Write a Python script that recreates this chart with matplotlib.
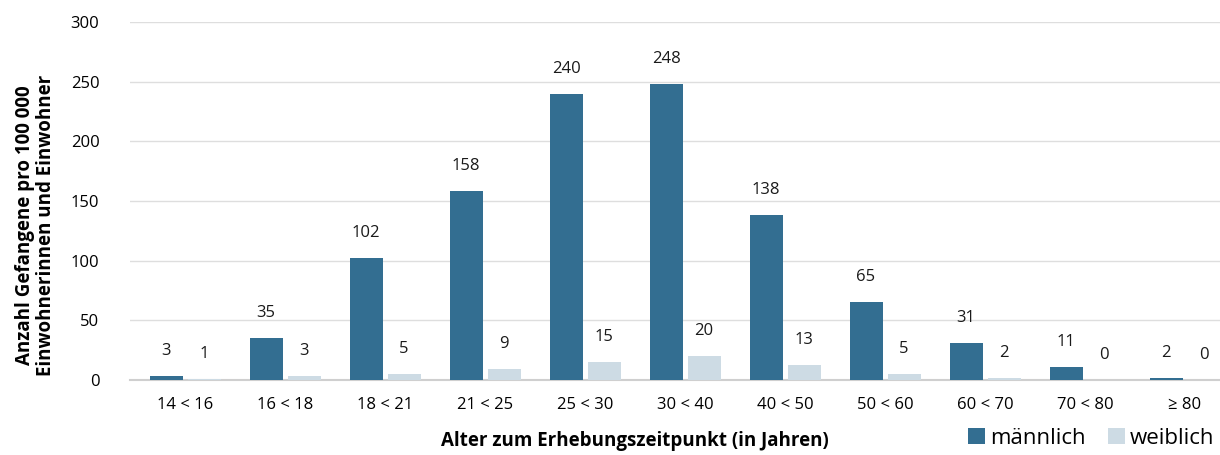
import matplotlib
matplotlib.use("Agg")
import matplotlib.pyplot as plt
import numpy as np

categories = ["14 < 16", "16 < 18", "18 < 21", "21 < 25", "25 < 30", "30 < 40",
              "40 < 50", "50 < 60", "60 < 70", "70 < 80", "≥ 80"]
maennlich = [3, 35, 102, 158, 240, 248, 138, 65, 31, 11, 2]
weiblich = [1, 3, 5, 9, 15, 20, 13, 5, 2, 0, 0]

plt.rcParams['font.family'] = ['Open Sans', 'DejaVu Sans']

fig = plt.figure(figsize=(12.2, 4.55), dpi=100)
ax = fig.add_axes([0.1066, 0.1648, 0.8934, 0.7868])

x = np.arange(len(categories))
w = 0.33
c_m = "#336e91"
c_w = "#cddbe4"
ax.bar(x - 0.19, maennlich, w, color=c_m, label="männlich", zorder=3)
ax.bar(x + 0.19, weiblich, w, color=c_w, label="weiblich", zorder=3)

for xi, v in zip(x - 0.19, maennlich):
    ax.annotate(str(v), (xi, v), xytext=(0, 18), textcoords="offset points",
                ha="center", va="center", fontsize=12, color="#1a1a1a")
for xi, v in zip(x + 0.19, weiblich):
    ax.annotate(str(v), (xi, v), xytext=(0, 18), textcoords="offset points",
                ha="center", va="center", fontsize=12, color="#1a1a1a")

ax.set_ylim(0, 300)
ax.set_yticks(range(0, 301, 50))
ax.set_xlim(-0.55, 10.35)
ax.set_xticks(x)
ax.set_xticklabels(categories, fontsize=12)
ax.tick_params(axis="y", labelsize=12, length=0, pad=22)
ax.tick_params(axis="x", length=0, pad=12)
ax.yaxis.grid(True, color="#dedede", linewidth=1, zorder=0)
for s in ["top", "right", "left"]:
    ax.spines[s].set_visible(False)
ax.spines["bottom"].set_color("#cfcfcf")
ax.spines["bottom"].set_linewidth(1.5)

fig.text(0.029, 0.505, "Anzahl Gefangene pro 100 000\nEinwohnerinnen und Einwohner",
         rotation=90, ha="center", va="center", fontsize=13.5, fontweight="bold",
         linespacing=1.1)
fig.text(0.52, 0.03, "Alter zum Erhebungszeitpunkt (in Jahren)", ha="center",
         va="center", fontsize=13.5, fontweight="bold")

leg = fig.legend(loc="lower right", bbox_to_anchor=(1.012, -0.03), ncol=2, frameon=False,
                 fontsize=16, handlelength=0.75, handleheight=0.75, handletextpad=0.25,
                 columnspacing=1.0)

fig.savefig("out.png", dpi=100)
